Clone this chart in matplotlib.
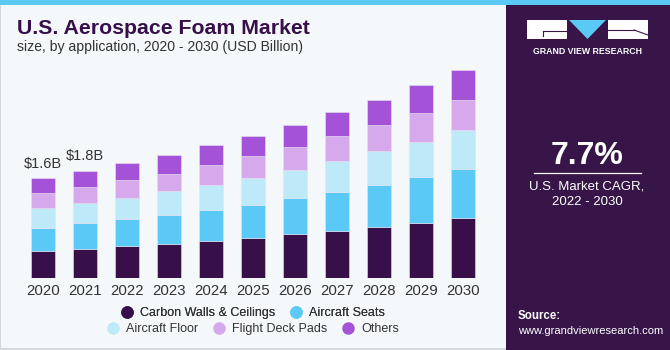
import numpy as np
import matplotlib
matplotlib.use("Agg")
import matplotlib.pyplot as plt
from matplotlib.patches import Rectangle, Polygon
from matplotlib.lines import Line2D

plt.rcParams['font.family'] = ['Liberation Sans', 'DejaVu Sans']

# data (USD Billion)
years = ['2020', '2021', '2022', '2023', '2024', '2025', '2026', '2027', '2028', '2029', '2030']
carbon_walls = [0.44, 0.47, 0.52, 0.55, 0.60, 0.65, 0.71, 0.76, 0.82, 0.88, 0.96]
aircraft_seats = [0.37, 0.41, 0.43, 0.46, 0.50, 0.53, 0.57, 0.62, 0.68, 0.74, 0.79]
aircraft_floor = [0.31, 0.32, 0.34, 0.38, 0.40, 0.43, 0.45, 0.50, 0.53, 0.56, 0.62]
flight_deck = [0.24, 0.26, 0.29, 0.28, 0.32, 0.34, 0.37, 0.39, 0.42, 0.47, 0.49]
others = [0.24, 0.26, 0.27, 0.30, 0.32, 0.33, 0.36, 0.39, 0.41, 0.44, 0.48]
series_names = ['Carbon Walls & Ceilings', 'Aircraft Seats', 'Aircraft Floor', 'Flight Deck Pads', 'Others']
series_colors = ['#37104a', '#5bc9f5', '#bde9f9', '#d6a9ec', '#a452d8']
value_labels = {0: '$1.6B', 1: '$1.8B'}

bg = '#f4f8fb'
panel = '#371549'

fig = plt.figure(figsize=(6.7, 3.5), dpi=100)
fig.patch.set_facecolor(bg)


def fx(px):
    return px / 670


def fy(py):
    return 1 - py / 350


# frame, top strip, right panel
fig.patches.append(Rectangle((0.0, 0.003), 0.999, 0.99, transform=fig.transFigure,
                             facecolor='none', edgecolor='#cfd3d6', lw=1.2))
fig.patches.append(Rectangle((0, 0.985), 1, 0.015, transform=fig.transFigure,
                             facecolor='#5bc9f5', edgecolor='none'))
fig.patches.append(Rectangle((fx(506), 0), 1 - fx(506), 0.985, transform=fig.transFigure,
                             facecolor=panel, edgecolor='none'))

# gradient at bottom of the panel
gax = fig.add_axes([fx(506), 0, 1 - fx(506), 0.27])
grad = np.linspace(0, 1, 100)[:, None]
cmap = matplotlib.colors.LinearSegmentedColormap.from_list('g', ['#5a86b8', '#41336a', panel])
gax.imshow(grad, aspect='auto', cmap=cmap, origin='lower', extent=[0, 1, 0, 1])
gax.axis('off')

# bars
ax = fig.add_axes([fx(22), (350 - 278.3) / 350, 462 / 670, 218.75 / 350])
ax.set_facecolor('none')
x = np.arange(len(years))
bottom = np.zeros(len(years))
for vals, name, col in zip([carbon_walls, aircraft_seats, aircraft_floor, flight_deck, others],
                           series_names, series_colors):
    ax.bar(x, vals, width=0.57, bottom=bottom, color=col, label=name,
           edgecolor='#e6e0ee', linewidth=0.4)
    bottom += np.array(vals)
for i, lab in value_labels.items():
    ax.text(x[i], bottom[i] + 0.12, lab, ha='center', va='bottom', fontsize=10.5, color='#333333')
ax.set_xlim(-0.5, len(years) - 0.5)
ax.set_ylim(0, 3.5)
ax.set_xticks(x)
ax.set_xticklabels(years, fontsize=10.8, color='#333333')
ax.tick_params(axis='x', length=0, pad=4)
ax.set_yticks([])
for s in ax.spines.values():
    s.set_visible(False)

# legend
handles = [Line2D([], [], marker='o', ls='none', markersize=8, markerfacecolor=c, markeredgecolor=c)
           for c in series_colors]
leg_kw = dict(loc='center', frameon=False, fontsize=9.0, handletextpad=0.6, columnspacing=1.2,
              handlelength=0.9, labelcolor='#333333')
leg1 = fig.legend(handles[:2], series_names[:2], bbox_to_anchor=(fx(253), fy(313)), ncol=2, **leg_kw)
leg2 = fig.legend(handles[2:], series_names[2:], bbox_to_anchor=(fx(253), fy(329)), ncol=3, **leg_kw)
fig.add_artist(leg1)

# titles
fig.text(fx(17), fy(29), 'U.S. Aerospace Foam Market', fontsize=15.3, fontweight='bold',
         color='#37104a', va='center')
fig.text(fx(17), fy(47), 'size, by application, 2020 - 2030 (USD Billion)', fontsize=10.1,
         color='#333333', va='center')

# logo
fig.patches.append(Rectangle((fx(527), fy(39)), fx(40), 19 / 350, transform=fig.transFigure,
                             facecolor='white', edgecolor='none'))
fig.patches.append(Rectangle((fx(608), fy(39)), fx(40), 19 / 350, transform=fig.transFigure,
                             facecolor='white', edgecolor='none'))
fig.patches.append(Polygon([(fx(569), fy(20)), (fx(606), fy(20)), (fx(587.5), fy(39))],
                           closed=True, transform=fig.transFigure, facecolor='#5bc9f5', edgecolor='none'))
fig.lines.append(Line2D([fx(543), fx(567)], [fy(31), fy(31)], transform=fig.transFigure, color=panel, lw=0.8))
fig.lines.append(Line2D([fx(543), fx(543)], [fy(31), fy(36)], transform=fig.transFigure, color=panel, lw=0.8))
fig.lines.append(Line2D([fx(634), fx(648)], [fy(30), fy(35)], transform=fig.transFigure, color=panel, lw=0.8))
fig.lines.append(Line2D([fx(608), fx(634)], [fy(30), fy(30)], transform=fig.transFigure, color=panel, lw=0.8))
fig.text(fx(587.5), fy(51), 'GRAND VIEW RESEARCH', fontsize=6.3, fontweight='bold', color='white',
         ha='center', va='center')

# CAGR
fig.text(fx(587), fy(156), '7.7%', fontsize=23, fontweight='bold', color='white', ha='center', va='center')
fig.lines.append(Line2D([fx(534), fx(641)], [fy(173), fy(173)], transform=fig.transFigure,
                        color='white', lw=0.9))
fig.text(fx(587), fy(186), 'U.S. Market CAGR,', fontsize=9.5, color='white', ha='center', va='center')
fig.text(fx(587), fy(202), '2022 - 2030', fontsize=9.5, color='white', ha='center', va='center')

# source
fig.text(fx(518), fy(316), 'Source:', fontsize=8.3, fontweight='bold', color='white', va='center')
fig.text(fx(518), fy(331), 'www.grandviewresearch.com', fontsize=8.0, color='white', va='center')

fig.savefig('out.png', dpi=100, facecolor=fig.get_facecolor())
